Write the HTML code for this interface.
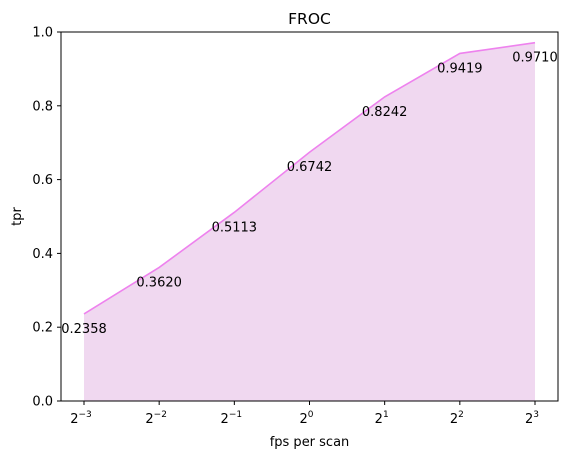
<!DOCTYPE html>
<html><head><meta charset="utf-8"><style>
body{margin:0;background:#fff;}
svg text{font-family:"DejaVu Sans","Liberation Sans",sans-serif;fill:#000;}
</style></head><body>
<svg id="chart" width="568" height="459" xmlns="http://www.w3.org/2000/svg">
<rect width="568" height="459" fill="#fff"/>
<g id="plot"></g>
</svg>
<script>
const exponents=[-3,-2,-1,0,1,2,3];
const tpr=[0.2358,0.3620,0.5113,0.6742,0.8242,0.9419,0.9710];
const valueLabels=["0.2358","0.3620","0.5113","0.6742","0.8242","0.9419","0.9710"];
const yTicks=[0,0.2,0.4,0.6,0.8,1.0];
const yTickLabels=["0.0","0.2","0.4","0.6","0.8","1.0"];

const L=61,R=558,T=32,B=401;
const xmin=-3.306,xmax=3.306;
const X=e=>L+(e-xmin)/(xmax-xmin)*(R-L);
const Y=v=>B-v*(B-T);
const NS="http://www.w3.org/2000/svg";
const g=document.getElementById('plot');
function mk(tag,attrs,txt){const el=document.createElementNS(NS,tag);for(const k in attrs)el.setAttribute(k,attrs[k]);if(txt!==undefined)el.textContent=txt;g.appendChild(el);return el;}

let area=`M${X(exponents[0])},${Y(0)}`;
exponents.forEach((e,i)=>{area+=` L${X(e)},${Y(tpr[i])}`;});
area+=` L${X(exponents[exponents.length-1])},${Y(0)} Z`;
const a=mk('path',{d:area,fill:'#f0d8f0',stroke:'none'});


const ln=mk('polyline',{points:exponents.map((e,i)=>X(e)+','+Y(tpr[i])).join(' '),fill:'none',stroke:'#ee82ee','stroke-width':1.6});



exponents.forEach((e,i)=>{
  const t=mk('text',{x:X(e),y:Y(tpr[i])+19,'font-size':13,'text-anchor':'middle'},valueLabels[i]);
  
  
});

const fr=mk('rect',{x:L,y:T,width:R-L,height:B-T,fill:'none',stroke:'#000','stroke-width':1});



yTicks.forEach((v,i)=>{
  mk('line',{x1:L-4,x2:L,y1:Y(v),y2:Y(v),stroke:'#000'});
  const t=mk('text',{x:L-8,y:Y(v)+4.5,'font-size':13,'text-anchor':'end'},yTickLabels[i]);
  
  
});
exponents.forEach(e=>{
  mk('line',{x1:X(e),x2:X(e),y1:B,y2:B+4,stroke:'#000'});
  const t=mk('text',{x:X(e)-3,y:B+22,'font-size':13,'text-anchor':'middle'});
  
  
  const b=document.createElementNS(NS,'tspan');b.textContent='2';t.appendChild(b);
  const s=document.createElementNS(NS,'tspan');s.setAttribute('font-size','9');s.setAttribute('dy','-6');
  s.textContent=e<0?'\u2212'+(-e):String(e);t.appendChild(s);
});

const title=mk('text',{x:(L+R)/2,y:24,'font-size':15.5,'text-anchor':'middle'},'FROC');


const xt=mk('text',{x:(L+R)/2,y:446,'font-size':13,'text-anchor':'middle'},'fps per scan');


const yt=mk('text',{x:21,y:(T+B)/2,'font-size':13,'text-anchor':'middle',transform:`rotate(-90 21 ${(T+B)/2})`},'tpr');


</script>
</body></html>
